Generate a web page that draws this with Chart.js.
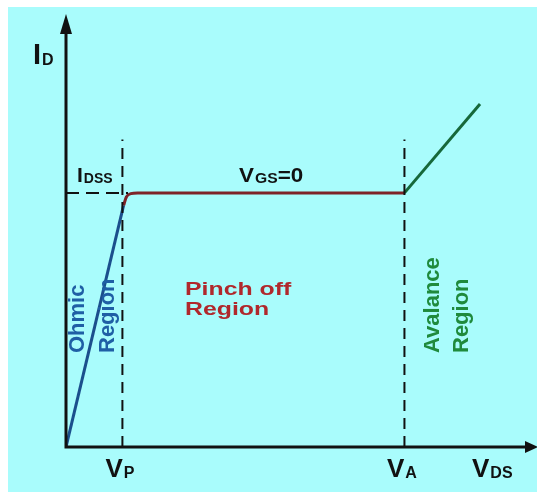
<!DOCTYPE html>
<html>
<head>
<meta charset="utf-8">
<script src="https://cdn.jsdelivr.net/npm/chart.js@4/dist/chart.umd.min.js"></script>
<style>
  html, body { margin: 0; padding: 0; background: #ffffff; }
  canvas { display: block; }
</style>
</head>
<body>
<canvas id="jfet" width="537" height="501"></canvas>
<script>
// operating points of the drain characteristic (V_DS, I_D)
var vP = 1;
var vA = 6;
var iDSS = 10;
var guideTop = 12.1;

var ohmicX = [0, 1.02];
var ohmicY = [0, 9.5];
var pinchX = [1.02, 1.07, 1.15, 1.27, 6];
var pinchY = [9.5, 9.84, 9.97, 10, 10];
var avalancheX = [6, 7.34];
var avalancheY = [10, 13.5];

// axis and region captions
var xTitle = ['V', 'DS'];
var yTitle = ['I', 'D'];
var xTickLabels = [['V', 'P'], ['V', 'A']];
var xTickValues = [vP, vA];
var idssLabel = ['I', 'DSS'];
var curveLabel = ['V', 'GS', '=0'];
var ohmicLabel = ['Ohmic', 'Region'];
var pinchLabel = ['Pinch off', 'Region'];
var avalancheLabel = ['Avalance', 'Region'];

function pts(xs, ys) {
    return xs.map(function (x, i) { return { x: x, y: ys[i] }; });
}

var FONT = '"Liberation Sans", Arial, sans-serif';

// main letter followed by a smaller subscript, optional trailing text
function subText(ctx, parts, x, y, big, small, align, stretch) {
    stretch = stretch || 1;
    ctx.save();
    ctx.font = 'bold ' + big + 'px ' + FONT;
    var w0 = ctx.measureText(parts[0]).width;
    var w2 = parts[2] ? ctx.measureText(parts[2]).width : 0;
    ctx.font = 'bold ' + small + 'px ' + FONT;
    var w1 = ctx.measureText(parts[1]).width;
    var total = (w0 + w1 + w2) * stretch;
    var left = align === 'center' ? x - total / 2 : x;
    ctx.translate(left, y);
    ctx.scale(stretch, 1);
    ctx.textAlign = 'left';
    ctx.textBaseline = 'alphabetic';
    ctx.font = 'bold ' + big + 'px ' + FONT;
    ctx.fillText(parts[0], 0, 0);
    ctx.font = 'bold ' + small + 'px ' + FONT;
    ctx.fillText(parts[1], w0 + 1, 1);
    if (parts[2]) {
        ctx.font = 'bold ' + big + 'px ' + FONT;
        ctx.fillText(parts[2], w0 + w1 + 1, 0);
    }
    ctx.restore();
}

function upText(ctx, text, x, y, size, color) {
    ctx.save();
    ctx.translate(x, y);
    ctx.rotate(-Math.PI / 2);
    ctx.font = 'bold ' + size + 'px ' + FONT;
    ctx.fillStyle = color;
    ctx.textAlign = 'left';
    ctx.textBaseline = 'alphabetic';
    ctx.fillText(text, 0, 0);
    ctx.restore();
}

var backdrop = {
    id: 'backdrop',
    beforeDraw: function (chart) {
        var ctx = chart.ctx;
        ctx.save();
        ctx.fillStyle = '#a9fcfc';
        ctx.fillRect(8, 7, chart.width - 8, 485);
        ctx.restore();
    }
};

var axesAndLabels = {
    id: 'axesAndLabels',
    afterDatasetsDraw: function (chart) {
        var ctx = chart.ctx;
        var a = chart.chartArea;
        var xs = chart.scales.x, ys = chart.scales.y;
        var x0 = xs.getPixelForValue(0), y0 = ys.getPixelForValue(0);

        ctx.save();
        ctx.strokeStyle = '#111';
        ctx.fillStyle = '#111';
        ctx.lineWidth = 3;
        ctx.beginPath();
        ctx.moveTo(x0, y0 + 1.5);
        ctx.lineTo(x0, a.top + 14);
        ctx.moveTo(x0 - 1.5, y0);
        ctx.lineTo(a.right - 10, y0);
        ctx.stroke();
        // arrow heads
        ctx.beginPath();
        ctx.moveTo(x0, a.top - 1);
        ctx.lineTo(x0 - 6, a.top + 19);
        ctx.lineTo(x0 + 6, a.top + 19);
        ctx.closePath();
        ctx.fill();
        ctx.beginPath();
        ctx.moveTo(a.right + 1, y0);
        ctx.lineTo(a.right - 12, y0 - 6);
        ctx.lineTo(a.right - 12, y0 + 6);
        ctx.closePath();
        ctx.fill();

        // axis titles and tick labels
        subText(ctx, yTitle, x0 - 33, 64, 29, 16, 'left');
        subText(ctx, xTitle, 472, y0 + 30, 26, 16, 'left');
        xTickLabels.forEach(function (lab, i) {
            subText(ctx, lab, xs.getPixelForValue(xTickValues[i]) - 3, y0 + 30, 26, 16, 'center');
        });

        var yI = ys.getPixelForValue(iDSS);
        subText(ctx, idssLabel, x0 + 11, yI - 11, 21, 14, 'left');
        subText(ctx, curveLabel, 239, yI - 11, 20, 14, 'left', 1.12);

        // region captions
        upText(ctx, ohmicLabel[0], x0 + 18, 353, 22, '#1f5fa5');
        upText(ctx, ohmicLabel[1], x0 + 48, 353, 22, '#1f5fa5');
        var xa = xs.getPixelForValue(vA);
        upText(ctx, avalancheLabel[0], xa + 35, 353, 22, '#1f8a3c');
        upText(ctx, avalancheLabel[1], xa + 64, 353, 22, '#1f8a3c');

        ctx.fillStyle = '#b0282c';
        ctx.font = 'bold 18px ' + FONT;
        ctx.textAlign = 'left';
        pinchLabel.forEach(function (t, i) {
            ctx.save();
            ctx.translate(185, 295 + i * 20);
            ctx.scale(1.38, 1);
            ctx.fillText(t, 0, 0);
            ctx.restore();
        });
        ctx.restore();
    }
};

var guide = { borderColor: '#111', borderWidth: 2, borderDash: [11, 7], pointRadius: 0 };

new Chart(document.getElementById('jfet'), {
    type: 'scatter',
    data: {
        datasets: [
            Object.assign({ data: pts([vP, vP], [0, guideTop]) }, guide),
            Object.assign({ data: pts([vA, vA], [0, guideTop]) }, guide),
            Object.assign({ data: pts([0, 1.1], [iDSS, iDSS]) }, guide, { borderDash: [13, 7] }),
            {
                label: 'Ohmic',
                data: pts(ohmicX, ohmicY),
                showLine: true,
                borderColor: '#1b4f8c',
                borderWidth: 3,
                pointRadius: 0
            },
            {
                label: 'Pinch off',
                data: pts(pinchX, pinchY),
                showLine: true,
                cubicInterpolationMode: 'monotone',
                borderColor: '#7e2428',
                borderWidth: 3,
                pointRadius: 0
            },
            {
                label: 'Avalance',
                data: pts(avalancheX, avalancheY),
                showLine: true,
                borderColor: '#16683a',
                borderWidth: 3,
                pointRadius: 0
            }
        ].map(function (d) { d.showLine = true; return d; })
    },
    options: {
        responsive: false,
        animation: false,
        layout: { padding: { left: 66, top: 15, right: 0, bottom: 54 } },
        plugins: { legend: { display: false }, tooltip: { enabled: false } },
        scales: {
            x: { type: 'linear', min: 0, max: 8.35, display: false },
            y: { type: 'linear', min: 0, max: 17, display: false }
        }
    },
    plugins: [backdrop, axesAndLabels]
});
</script>
</body>
</html>
